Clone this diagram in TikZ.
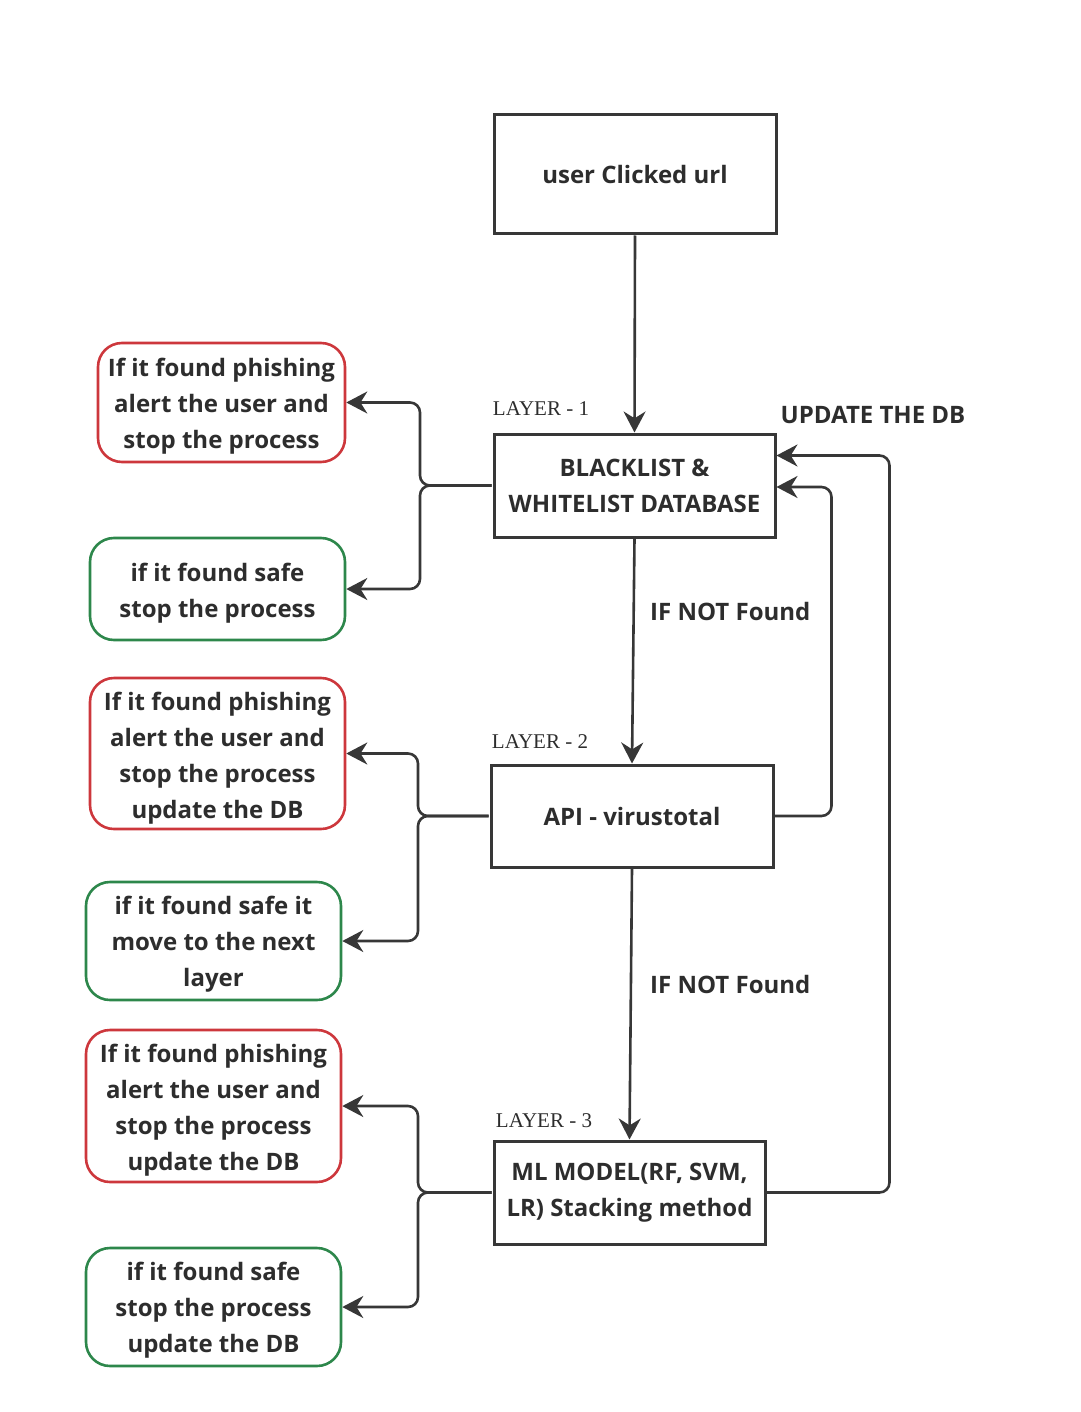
\documentclass[tikz,border=0pt]{standalone}
\usepackage{fontspec}
\setmainfont{Open Sans}
\newfontfamily\layerfont{Liberation Serif}
\usetikzlibrary{arrows.meta}
\definecolor{txt}{RGB}{45,45,45}
\definecolor{ln}{RGB}{55,55,55}
\definecolor{redb}{RGB}{205,55,60}
\definecolor{greenb}{RGB}{45,135,75}
\tikzset{
  mainbox/.style={draw=ln, line width=3pt, fill=white, align=center, text=txt,
    font=\fontsize{24}{36}\selectfont\bfseries, inner sep=0pt},
  outbox/.style={draw, line width=2.6pt, rounded corners=24pt, fill=white, inner sep=0pt, minimum width=255pt},
  outtext/.style={align=center, text=txt, font=\fontsize{24}{36}\selectfont\bfseries, inner sep=0pt},
  redbox/.style={outbox, draw=redb},
  greenbox/.style={outbox, draw=greenb},
  arr/.style={draw=ln, line width=2.6pt, -{Stealth[length=21pt, width=22pt]}, rounded corners=10pt},
  layerlbl/.style={text=txt, font=\layerfont\fontsize{21}{24}\selectfont, inner sep=0pt},
  edgelbl/.style={text=txt, font=\fontsize{24}{30}\selectfont\bfseries, inner sep=0pt}
}
\begin{document}
\begin{tikzpicture}[x=1pt, y=-1pt]
\useasboundingbox (0,0) rectangle (1080,1412);
% main boxes
\node[mainbox, minimum width=282pt, minimum height=119pt] (top) at (635,174.5) {user Clicked url};
\node[mainbox, minimum width=281pt, minimum height=103pt] (b1) at (634.5,485.5) {BLACKLIST \&\\WHITELIST DATABASE};
\node[mainbox, minimum width=282pt, minimum height=102pt] (b2) at (632,816) {API - virustotal};
\node[mainbox, minimum width=271pt, minimum height=103pt] (b3) at (629.5,1192.5) {ML MODEL(RF, SVM,\\LR) Stacking method};
% outcome boxes
\node[redbox, minimum width=247pt, minimum height=119pt] (r1) at (221.5,402.5) {};
\node[greenbox, minimum height=102pt] (g1) at (217.5,589) {};
\node[redbox, minimum height=151pt] (r2) at (217.5,753.5) {};
\node[greenbox, minimum height=118pt] (g2) at (213.5,941) {};
\node[redbox, minimum height=152pt] (r3) at (213.5,1106) {};
\node[greenbox, minimum height=118pt] (g3) at (213.5,1307) {};
\node[outtext] (r1t) at ([yshift=-4pt]r1.center) {If it found phishing\\alert the user and\\stop the process};
\node[outtext] (g1t) at ([yshift=-4pt]g1.center) {if it found safe\\stop the process};
\node[outtext] (r2t) at ([yshift=-4.5pt]r2.center) {If it found phishing\\alert the user and\\stop the process\\update the DB};
\node[outtext] (g2t) at ([yshift=-3pt]g2.center) {if it found safe it\\move to the next\\layer};
\node[outtext] (r3t) at ([yshift=-4pt]r3.center) {If it found phishing\\alert the user and\\stop the process\\update the DB};
\node[outtext] (g3t) at ([yshift=-3pt]g3.center) {if it found safe\\stop the process\\update the DB};
% labels
\node[layerlbl] (l1) at (541,409) {LAYER - 1};
\node[layerlbl] (l2) at (540,742) {LAYER - 2};
\node[layerlbl] (l3) at (544,1121) {LAYER - 3};
\node[edgelbl] (upd) at (873,415) {UPDATE THE DB};
\node[edgelbl, anchor=west] (nf1) at (650,611) {IF NOT Found};
\node[edgelbl, anchor=west] (nf2) at (650,984) {IF NOT Found};
% junctions
\coordinate (j1) at (420,485.5);
\coordinate (j2) at (418,816);
\coordinate (j3) at (418,1192.5);
% vertical flow
\draw[arr] (top.south) -- (b1.north);
\draw[arr] (b1.south) -- (b2.north);
\draw[arr] (b2.south) -- (b3.north);
% left branches
\draw[arr] ([xshift=-1pt]b1.west) -- (j1) |- (r1.east);
\draw[arr] ([xshift=-1pt]b1.west) -- (j1) |- (g1.east);
\draw[arr] ([xshift=-1pt]b2.west) -- (j2) |- (r2.east);
\draw[arr] ([xshift=-1pt]b2.west) -- (j2) |- (g2.east);
\draw[arr] ([xshift=-1pt]b3.west) -- (j3) |- (r3.east);
\draw[arr] ([xshift=-1pt]b3.west) -- (j3) |- (g3.east);
% update DB feedback
\draw[arr] (b2.east) -- ++(57,0) |- ([yshift=-1.5pt]b1.east);
\draw[arr] (b3.east) -- ++(123,0) |- ([yshift=30pt]b1.east);
\end{tikzpicture}
\end{document}
